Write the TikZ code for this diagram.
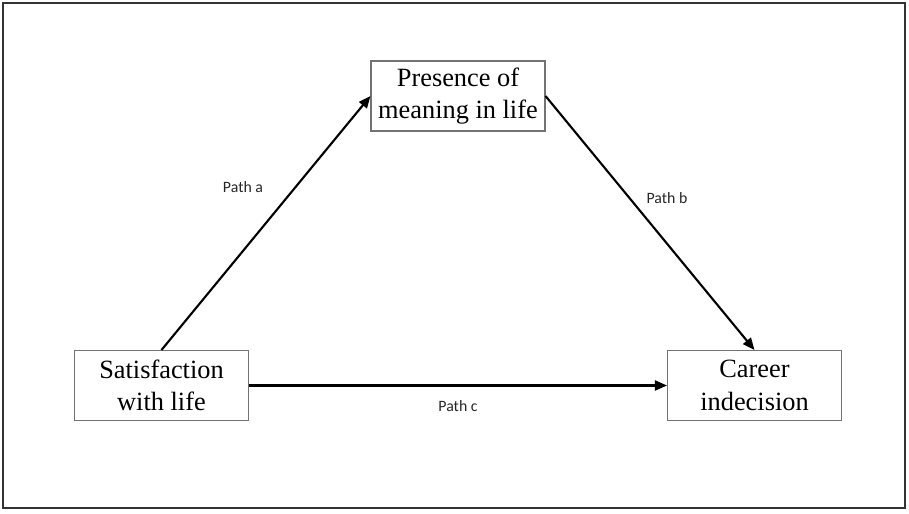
\documentclass[tikz,border=0pt]{standalone}
\usepackage{fontspec}
\setmainfont{Liberation Serif}
\newfontfamily\labelfont{Carlito}
\usetikzlibrary{arrows.meta}

\tikzset{
	varbox/.style={draw=black!55, line width=0.6pt, minimum width=3.48cm, minimum height=1.4cm,
		align=center, inner sep=0pt, font=\fontsize{15}{18.5}\selectfont},
	pathlabel/.style={font=\labelfont\fontsize{9}{11}\selectfont, text=black!85},
	patharrow/.style={line width=1.2pt, -{Triangle[length=2.4mm,width=2mm]}}
}

\begin{document}
\begin{tikzpicture}[x=0.2mm, y=-0.2mm]
			%%%%% FRAME %%%%%
			\useasboundingbox (0, 0) rectangle (909, 513);
			\draw[line width=0.9pt, color=black!80] (3, 3) rectangle (905, 508);
			
			%%%%% VARIABLES %%%%%
			\node[varbox] (meaning) at (458, 96) {Presence of\\meaning in life};
			\node[varbox] (satisfaction) at (161.5, 385.5) {Satisfaction\\with life};
			\node[varbox] (indecision) at (754.5, 385.5) {Career\\indecision};
			
			%%%%% PATHS %%%%%
			\draw[patharrow] (satisfaction.north) -- (meaning.west);
			\draw[patharrow] (meaning.east) -- (indecision.north);
			\draw[patharrow] (satisfaction.east) -- (indecision.west);
			
			\node[pathlabel] (patha) at (243, 187) {Path a};
			\node[pathlabel] (pathb) at (667, 198) {Path b};
			\node[pathlabel] (pathc) at (458, 406) {Path c};
		\end{tikzpicture}
\end{document}
